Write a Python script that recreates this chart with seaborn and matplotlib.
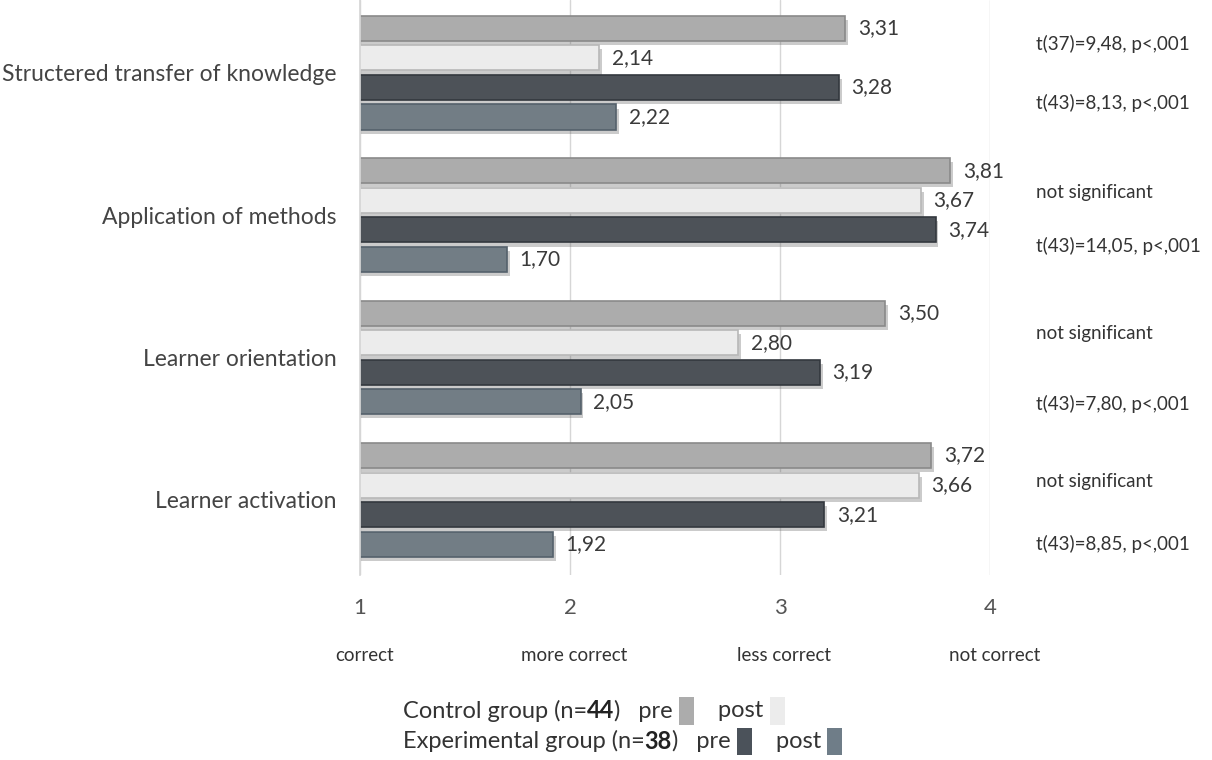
import numpy as np
import pandas as pd
import matplotlib.pyplot as plt
import matplotlib.patheffects as pe
from matplotlib.offsetbox import TextArea, DrawingArea, HPacker, VPacker, AnchoredOffsetbox
from matplotlib.patches import Rectangle
import seaborn as sns

# data
categories = ['Structered transfer of knowledge', 'Application of methods',
              'Learner orientation', 'Learner activation']
series = ['Control pre', 'Control post', 'Experimental pre', 'Experimental post']
control_pre = [3.31, 3.81, 3.50, 3.72]
control_post = [2.14, 3.67, 2.80, 3.66]
exp_pre = [3.28, 3.74, 3.19, 3.21]
exp_post = [2.22, 1.70, 2.05, 1.92]
stats_control = ['t(37)=9,48, p<,001', 'not significant', 'not significant', 'not significant']
stats_exp = ['t(43)=8,13, p<,001', 't(43)=14,05, p<,001', 't(43)=7,80, p<,001', 't(43)=8,85, p<,001']
scale_ticks = [1, 2, 3, 4]
scale_labels = ['correct', 'more correct', 'less correct', 'not correct']

colors = ['#acacac', '#ececec', '#4b525a', '#6f7d88']
edges = ['#8a8a8a', '#b8b8b8', '#33383e', '#55616b']

rows = []
for s, vals in zip(series, [control_pre, control_post, exp_pre, exp_post]):
    for c, v in zip(categories, vals):
        rows.append({'category': c, 'series': s, 'value': v})
df = pd.DataFrame(rows)

sns.set_theme(style='white')
plt.rcParams['font.family'] = ['Lato', 'DejaVu Sans']

fig = plt.figure(figsize=(12.12, 7.6), dpi=100)
ax = fig.add_axes([0.297, 0.243, 0.52, 0.757])

sns.barplot(data=df, y='category', x='value', hue='series', orient='h',
            palette=colors, width=0.83, gap=0.15, legend=False, ax=ax)

# styling of bars: edge + soft shadow, value labels
for i, cont in enumerate(ax.containers):
    for bar in cont:
        bar.set_edgecolor(edges[i])
        bar.set_linewidth(1.2)
        bar.set_path_effects([pe.SimplePatchShadow(offset=(2, -3), alpha=0.3, shadow_rgbFace='#555555'),
                              pe.Normal()])
    ax.bar_label(cont, labels=[f'{v:.2f}'.replace('.', ',') for v in cont.datavalues],
                 padding=9, fontsize=15, color='#3a3a3a')

ax.set_xlim(1, 4)
ax.set_ylim(3.53, -0.51)
ax.set_xticks(scale_ticks)
ax.set_xticklabels([str(t) for t in scale_ticks], fontsize=16, color='#555555')
ax.tick_params(axis='x', length=0, pad=16)
ax.tick_params(axis='y', length=0, pad=17, labelsize=16.5, labelcolor='#444444')
ax.set_xlabel('')
ax.set_ylabel('')
ax.grid(axis='x', color='#d6d6d6', linewidth=1)
ax.set_axisbelow(True)
for side in ['top', 'right', 'bottom']:
    ax.spines[side].set_visible(False)
ax.spines['left'].set_color('#d6d6d6')

# scale descriptions under the ticks
for t, lab in zip(scale_ticks, scale_labels):
    ax.text(t + 0.02, -0.139, lab, transform=ax.get_xaxis_transform(), ha='center', va='center',
            fontsize=13.5, color='#333333')

# significance notes to the right
ctrl_off = [-0.2, -0.16, -0.17, -0.13]
exp_off = [0.21, 0.22, 0.33, 0.31]
for i in range(len(categories)):
    ax.text(1.073, i + ctrl_off[i], stats_control[i], transform=ax.get_yaxis_transform(),
            ha='left', va='center', fontsize=13.5, color='#333333', clip_on=False)
    ax.text(1.073, i + exp_off[i], stats_exp[i], transform=ax.get_yaxis_transform(),
            ha='left', va='center', fontsize=13.5, color='#333333', clip_on=False)


# legend built from text pieces and swatches
def swatch(color):
    da = DrawingArea(11, 20, 0, 0)
    da.add_artist(Rectangle((0, 0), 11, 20, facecolor=color, edgecolor='none'))
    return da


txt = dict(fontsize=17, color='#333333')
bold = dict(fontsize=17, color='#222222', fontweight='bold')
line1 = HPacker(children=[TextArea('Control group (n=', textprops=txt),
                          TextArea('44', textprops=bold),
                          TextArea(')   pre ', textprops=txt), swatch(colors[0]),
                          TextArea('    post ', textprops=txt), swatch(colors[1])],
                align='center', pad=0, sep=0)
line2 = HPacker(children=[TextArea('Experimental group (n=', textprops=txt),
                          TextArea('38', textprops=bold),
                          TextArea(')   pre ', textprops=txt), swatch(colors[2]),
                          TextArea('    post ', textprops=txt), swatch(colors[3])],
                align='center', pad=0, sep=0)
box = VPacker(children=[line1, line2], align='left', pad=0, sep=2)
anchored = AnchoredOffsetbox(loc='upper left', child=box, frameon=False, pad=0,
                             bbox_to_anchor=(403 / 1212, 1 - 697 / 760),
                             bbox_transform=fig.transFigure, borderpad=0)
fig.add_artist(anchored)

fig.savefig('out.png', dpi=100, facecolor='white')
